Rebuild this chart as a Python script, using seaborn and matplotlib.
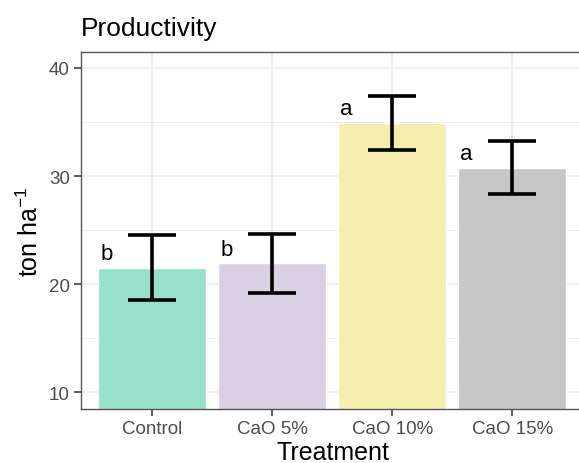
import matplotlib
matplotlib.use("Agg")
import matplotlib.pyplot as plt
import seaborn as sns
import pandas as pd
import numpy as np

treatments = ["Control", "CaO 5%", "CaO 10%", "CaO 15%"]
means = [21.5, 21.9, 34.9, 30.75]
errors = [3.0, 2.7, 2.5, 2.45]
letters = ["b", "b", "a", "a"]
colors = ["#98E2CB", "#DACFE5", "#F6EEAF", "#C7C7C7"]

sns.set_theme(style="white")
plt.rcParams['font.family'] = ['Liberation Sans', 'DejaVu Sans']
plt.rcParams['mathtext.fontset'] = 'custom'
plt.rcParams['mathtext.rm'] = 'Liberation Sans'
plt.rcParams['mathtext.it'] = 'Liberation Sans:italic'

df = pd.DataFrame({"Treatment": treatments, "Yield": means, "SE": errors})

fig = plt.figure(figsize=(5.79, 4.64), dpi=100)
ax = fig.add_axes([81/579, 1-410/464, (584.3-81)/579, (410-53)/464])

sns.barplot(data=df, x="Treatment", y="Yield", hue="Treatment", palette=colors,
            order=treatments, hue_order=treatments, errorbar=None, width=0.9,
            legend=False, ax=ax, saturation=1, zorder=2)

xpos = np.arange(len(treatments))
ax.errorbar(xpos, df["Yield"], yerr=df["SE"], fmt="none", ecolor="black",
            elinewidth=2.6, capsize=17, capthick=2.6, zorder=4)

for i, (m, lab) in enumerate(zip(means, letters)):
    ax.text(i - 0.38, m + 0.35, lab, ha="center", va="bottom", fontsize=16,
            color="black", zorder=5)

ax.set_ylim(8.43, 41.48)
ax.set_xlim(-0.594, 3.6)
ax.set_yticks([10, 20, 30, 40])
ax.set_yticks([15, 25, 35], minor=True)
ax.grid(True, which="major", color="#EBEBEB", linewidth=1.1, zorder=0)
ax.grid(True, which="minor", axis="y", color="#EBEBEB", linewidth=0.6, zorder=0)
ax.set_axisbelow(True)
for s in ax.spines.values():
    s.set_color("#555555")
    s.set_linewidth(1.0)

ax.tick_params(axis="both", which="major", direction="out", length=5, width=1.1,
               color="#333333", labelsize=13.5, labelcolor="#4D4D4D", pad=3,
               bottom=True, left=True)
ax.tick_params(axis="both", which="minor", length=0)

ax.set_xlabel("Treatment", fontsize=18, color="black", labelpad=2)
ax.set_ylabel(r"ton ha$^{-1}$", fontsize=18, color="black", labelpad=4)
ax.set_title("Productivity", fontsize=19, loc="left", color="black", pad=12)

fig.savefig("out.png", dpi=100)
